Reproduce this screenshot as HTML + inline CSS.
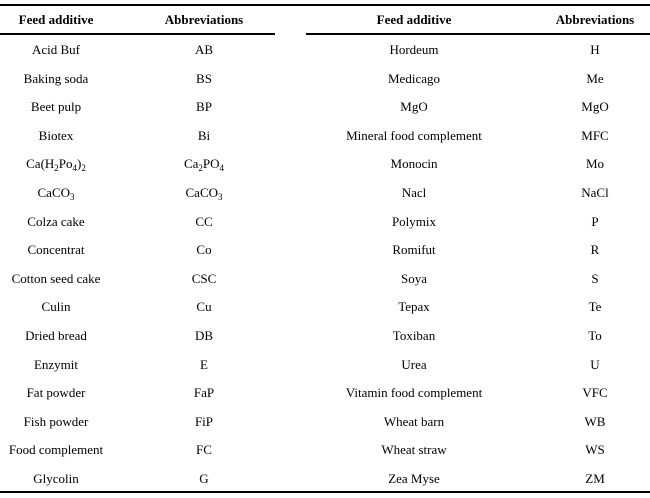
<!DOCTYPE html>
<html><head><style>
body{margin:0;width:650px;height:498px;background:#fff;position:relative;overflow:hidden;font-family:"Liberation Serif",serif;font-size:13px;color:#000}
.l{position:absolute;background:#000;height:2px}
.t{position:absolute;width:240px;margin-left:-120px;text-align:center;line-height:16px;white-space:nowrap}
.h{font-weight:bold}
sub{font-size:9px;vertical-align:-3px;line-height:0}
</style></head><body>
<div class="l" style="left:0;top:4px;width:650px"></div>
<div class="l" style="left:0;top:33px;width:275px"></div>
<div class="l" style="left:306px;top:33px;width:344px"></div>
<div class="l" style="left:0;top:491px;width:650px"></div>
<div id="c"></div>
<script>
var L=[["Acid Buf","AB"],["Baking soda","BS"],["Beet pulp","BP"],["Biotex","Bi"],["Ca(H<sub>2</sub>Po<sub>4</sub>)<sub>2</sub>","Ca<sub>2</sub>PO<sub>4</sub>"],["CaCO<sub>3</sub>","CaCO<sub>3</sub>"],["Colza cake","CC"],["Concentrat","Co"],["Cotton seed cake","CSC"],["Culin","Cu"],["Dried bread","DB"],["Enzymit","E"],["Fat powder","FaP"],["Fish powder","FiP"],["Food complement","FC"],["Glycolin","G"]];
var R=[["Hordeum","H"],["Medicago","Me"],["MgO","MgO"],["Mineral food complement","MFC"],["Monocin","Mo"],["Nacl","NaCl"],["Polymix","P"],["Romifut","R"],["Soya","S"],["Tepax","Te"],["Toxiban","To"],["Urea","U"],["Vitamin food complement","VFC"],["Wheat barn","WB"],["Wheat straw","WS"],["Zea Myse","ZM"]];
var h='';function d(x,y,s,c){h+='<div class="t'+(c||'')+'" style="left:'+x+'px;top:'+(y-8)+'px">'+s+'</div>';}
d(56,20,"Feed additive"," h");d(204,20,"Abbreviations"," h");d(414,20,"Feed additive"," h");d(595,20,"Abbreviations"," h");
for(var i=0;i<16;i++){var y=50+i*28.6;d(56,y,L[i][0]);d(204,y,L[i][1]);d(414,y,R[i][0]);d(595,y,R[i][1]);}
document.getElementById('c').innerHTML=h;
</script>
</body></html>
